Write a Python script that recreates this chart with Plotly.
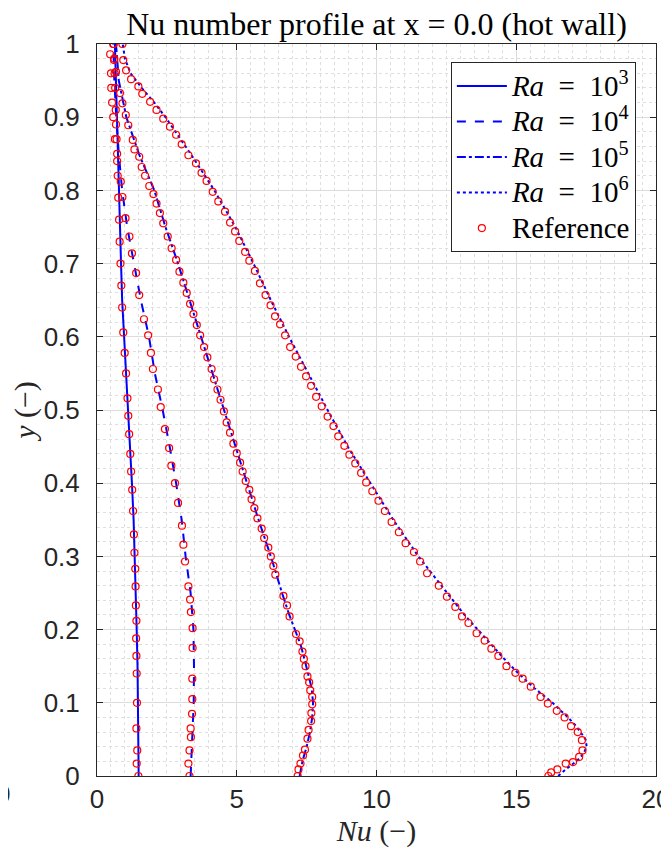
import plotly.graph_objects as go

# ---------------- data ----------------
# Model (line) profiles
y_ra3 = [0, 0.05, 0.1, 0.15, 0.2, 0.25, 0.3, 0.35, 0.4, 0.45, 0.5, 0.55, 0.6, 0.65, 0.7, 0.75, 0.8, 0.85, 0.9, 0.95, 1.0]
nu_ra3 = [1.49, 1.48, 1.47, 1.45, 1.42, 1.39, 1.36, 1.31, 1.25, 1.18, 1.11, 1.04, 0.97, 0.90, 0.86, 0.82, 0.78, 0.74, 0.70, 0.67, 0.64]

y_ra4 = [0, 0.05, 0.1, 0.15, 0.2, 0.25, 0.3, 0.35, 0.4, 0.45, 0.5, 0.55, 0.6, 0.65, 0.7, 0.75, 0.8, 0.85, 0.9, 0.95, 1.0]
nu_ra4 = [3.35, 3.40, 3.46, 3.47, 3.45, 3.35, 3.17, 3.03, 2.83, 2.60, 2.35, 2.07, 1.86, 1.57, 1.32, 1.08, 0.90, 0.78, 0.69, 0.62, 0.58]

y_ra5 = [0, 0.02, 0.04, 0.06, 0.08, 0.1, 0.12, 0.14, 0.16, 0.18, 0.2, 0.22, 0.25, 0.3, 0.35, 0.4, 0.45, 0.5, 0.55, 0.6, 0.65, 0.7, 0.75, 0.8, 0.85, 0.9, 0.95, 1.0]
nu_ra5 = [7.25, 7.35, 7.50, 7.62, 7.70, 7.73, 7.68, 7.56, 7.42, 7.28, 7.07, 6.88, 6.62, 6.22, 5.78, 5.37, 4.95, 4.55, 4.14, 3.73, 3.30, 2.90, 2.45, 2.05, 1.50, 1.05, 0.78, 0.68]

y_ra6 = [0, 0.01, 0.02, 0.03, 0.04, 0.05, 0.06, 0.07, 0.08, 0.09, 0.1, 0.12, 0.14, 0.16, 0.18, 0.2, 0.22, 0.25, 0.3, 0.35, 0.4, 0.45, 0.5, 0.55, 0.6, 0.65, 0.7, 0.75, 0.8, 0.85, 0.9, 0.92, 0.94, 0.96, 0.98, 1.0]
nu_ra6 = [16.5, 16.8, 17.15, 17.4, 17.52, 17.48, 17.3, 17.1, 16.85, 16.58, 16.3, 15.65, 15.08, 14.57, 14.1, 13.6, 13.15, 12.53, 11.5, 10.6, 9.78, 8.97, 8.25, 7.55, 6.87, 6.22, 5.6, 4.95, 4.2, 3.35, 2.45, 2.05, 1.6, 1.2, 1.0, 0.92]

# Reference (circle) data
ref_y_ra3 = [0, 0.017, 0.035, 0.065, 0.1, 0.14, 0.164, 0.188, 0.212, 0.233, 0.259, 0.283, 0.305, 0.330, 0.362, 0.391, 0.416, 0.440, 0.467, 0.492, 0.516, 0.550, 0.578, 0.606, 0.640, 0.67, 0.70, 0.73, 0.76, 0.79, 0.82, 0.85, 0.87, 0.89, 0.91, 0.94, 0.96, 0.98, 1.0]
ref_nu_ra3 = [1.48, 1.42, 1.44, 1.41, 1.43, 1.42, 1.41, 1.40, 1.41, 1.39, 1.38, 1.37, 1.34, 1.32, 1.29, 1.26, 1.22, 1.19, 1.15, 1.12, 1.09, 1.04, 0.99, 0.94, 0.90, 0.87, 0.84, 0.81, 0.79, 0.76, 0.74, 0.72, 0.70, 0.68, 0.67, 0.65, 0.63, 0.62, 0.60]

ref_y_ra4 = [0, 0.017, 0.035, 0.053, 0.065, 0.085, 0.105, 0.133, 0.175, 0.202, 0.224, 0.241, 0.259, 0.293, 0.316, 0.342, 0.373, 0.400, 0.424, 0.448, 0.474, 0.504, 0.528, 0.556, 0.578, 0.602, 0.624, 0.657, 0.687, 0.714, 0.737, 0.762, 0.791, 0.812, 0.84, 0.87, 0.90, 0.92, 0.94, 0.96, 0.986]
ref_nu_ra4 = [3.31, 3.27, 3.31, 3.36, 3.35, 3.40, 3.41, 3.41, 3.42, 3.42, 3.36, 3.33, 3.27, 3.15, 3.09, 3.04, 2.90, 2.79, 2.66, 2.58, 2.43, 2.28, 2.18, 2.00, 1.93, 1.83, 1.68, 1.51, 1.40, 1.25, 1.16, 1.02, 0.91, 0.85, 0.72, 0.64, 0.58, 0.54, 0.51, 0.50, 0.47]

ref_y_ra5 = [0, 0.009, 0.017, 0.028, 0.036, 0.051, 0.063, 0.075, 0.086, 0.098, 0.108, 0.117, 0.128, 0.136, 0.150, 0.160, 0.170, 0.184, 0.194, 0.218, 0.233, 0.246, 0.275, 0.287, 0.300, 0.312, 0.325, 0.338, 0.352, 0.366, 0.378, 0.391, 0.403, 0.416, 0.428, 0.441, 0.454, 0.469, 0.483, 0.498, 0.514, 0.528, 0.542, 0.556, 0.572, 0.586, 0.602, 0.616, 0.631, 0.645, 0.66, 0.674, 0.689, 0.705, 0.721, 0.737, 0.755, 0.769, 0.782, 0.795, 0.806, 0.820, 0.832, 0.846, 0.856, 0.869, 0.889, 0.903, 0.919, 0.933, 0.962, 0.978, 1.0]
ref_nu_ra5 = [7.18, 7.21, 7.28, 7.37, 7.44, 7.53, 7.57, 7.66, 7.67, 7.70, 7.70, 7.63, 7.59, 7.53, 7.46, 7.40, 7.35, 7.25, 7.12, 6.89, 6.80, 6.67, 6.38, 6.31, 6.22, 6.13, 5.98, 5.89, 5.74, 5.63, 5.53, 5.45, 5.32, 5.21, 5.12, 5.00, 4.88, 4.76, 4.64, 4.54, 4.42, 4.31, 4.19, 4.10, 3.95, 3.83, 3.69, 3.57, 3.45, 3.33, 3.21, 3.09, 2.95, 2.83, 2.67, 2.53, 2.37, 2.25, 2.13, 2.02, 1.87, 1.72, 1.60, 1.51, 1.34, 1.28, 1.12, 1.03, 0.91, 0.82, 0.68, 0.61, 0.58]

ref_y_ra6 = [0, 0.005, 0.009, 0.017, 0.019, 0.026, 0.035, 0.049, 0.060, 0.068, 0.080, 0.089, 0.099, 0.108, 0.122, 0.133, 0.141, 0.150, 0.164, 0.174, 0.185, 0.195, 0.209, 0.218, 0.231, 0.245, 0.260, 0.277, 0.293, 0.306, 0.318, 0.333, 0.347, 0.362, 0.376, 0.389, 0.401, 0.414, 0.427, 0.439, 0.451, 0.464, 0.478, 0.491, 0.505, 0.518, 0.533, 0.546, 0.559, 0.573, 0.586, 0.602, 0.617, 0.628, 0.643, 0.657, 0.673, 0.690, 0.704, 0.716, 0.731, 0.744, 0.756, 0.771, 0.785, 0.798, 0.813, 0.824, 0.837, 0.848, 0.863, 0.876, 0.887, 0.898, 0.910, 0.921, 0.932, 0.942, 0.952, 0.964, 0.978, 1.0]
ref_nu_ra6 = [16.15, 16.25, 16.47, 16.77, 17.03, 17.25, 17.37, 17.35, 17.20, 16.96, 16.73, 16.45, 16.13, 15.87, 15.52, 15.23, 14.97, 14.65, 14.36, 14.11, 13.87, 13.58, 13.29, 13.06, 12.82, 12.52, 12.23, 11.81, 11.56, 11.34, 11.04, 10.80, 10.54, 10.30, 10.07, 9.85, 9.63, 9.45, 9.24, 9.03, 8.85, 8.63, 8.46, 8.25, 8.04, 7.84, 7.66, 7.48, 7.30, 7.11, 6.91, 6.73, 6.55, 6.37, 6.21, 6.03, 5.83, 5.65, 5.45, 5.30, 5.09, 4.94, 4.76, 4.58, 4.34, 4.14, 3.92, 3.74, 3.54, 3.27, 3.03, 2.83, 2.61, 2.37, 2.13, 1.90, 1.62, 1.48, 1.22, 1.04, 0.94, 0.91]

exponents = ["3", "4", "5", "6"]
ref_name = "Reference"
x_ticks = [0, 5, 10, 15, 20]
y_ticks = [0, 0.1, 0.2, 0.3, 0.4, 0.5, 0.6, 0.7, 0.8, 0.9, 1]
y_ticktext = ["0", "0.1", "0.2", "0.3", "0.4", "0.5", "0.6", "0.7", "0.8", "0.9", "1"]

# ---------------- figure ----------------
BLUE = "#0000ff"
RED = "#ff0000"
SERIF = "Liberation Serif, Times New Roman, serif"
SANS = "Liberation Sans, Arial, sans-serif"
NB = "\u00a0"
BIG = '<span style="font-size:29px">{}</span>'

series_names = [BIG.format(f"<i>Ra</i> {NB}={NB} 10<sup>{e}</sup>") for e in exponents]

fig = go.Figure()
lines = [(nu_ra3, y_ra3, "solid"), (nu_ra4, y_ra4, "dash"),
         (nu_ra5, y_ra5, "dashdot"), (nu_ra6, y_ra6, "dot")]
for (xv, yv, dash), name in zip(lines, series_names):
    fig.add_trace(go.Scatter(x=xv, y=yv, mode="lines", name=name,
                             line=dict(color=BLUE, width=2, dash=dash)))

refs = [(ref_nu_ra3, ref_y_ra3), (ref_nu_ra4, ref_y_ra4),
        (ref_nu_ra5, ref_y_ra5), (ref_nu_ra6, ref_y_ra6)]
for i, (xv, yv) in enumerate(refs):
    fig.add_trace(go.Scatter(x=xv, y=yv, mode="markers", name=BIG.format(ref_name),
                             showlegend=(i == 0),
                             marker=dict(symbol="circle-open", size=7,
                                         color=RED, line=dict(width=1.2, color=RED))))

axis_common = dict(
    showline=True, linecolor="#262626", linewidth=1, mirror="ticks",
    ticks="inside", ticklen=6, tickcolor="#262626",
    showgrid=True, gridcolor="#dcdcdc", gridwidth=1,
    zeroline=False, automargin=False, ticklabeloverflow="allow",
    tickfont=dict(family=SANS, size=26, color="#262626"),
)

fig.update_xaxes(range=[0, 20], tickvals=x_ticks,
                 minor=dict(dtick=0.5, showgrid=True, gridcolor="#dedede",
                            griddash="dot", ticks=""),
                 ticklabelstandoff=0,
                 title=dict(text="<i>Nu</i> (−)", font=dict(family=SERIF, size=30, color="#262626"),
                            standoff=4),
                 **axis_common)
fig.update_yaxes(range=[0, 1], tickvals=y_ticks, ticktext=y_ticktext,
                 minor=dict(dtick=0.02, showgrid=True, gridcolor="#dedede",
                            griddash="dot", ticks=""),
                 ticklabelstandoff=11,
                 title=dict(text="<i>y</i> (−)", font=dict(family=SERIF, size=30, color="#262626"),
                            standoff=0),
                 **axis_common)

# The page body adds an 8 px offset; the figure is sized so that the plot
# area lands at the same window position as the reference.
fig.update_layout(
    width=661, height=841,
    margin=dict(l=89, r=13, t=36, b=73, autoexpand=False),
    paper_bgcolor="white", plot_bgcolor="white",
    title=dict(text="Nu number profile at x = 0.0 (hot wall)",
               font=dict(family=SERIF, size=32, color="#000000"),
               x=0.5, xanchor="center", xref="paper",
               y=1 - 16 / 841, yanchor="middle", yref="container"),
    legend=dict(x=0.964, y=0.975, xanchor="right", yanchor="top",
                bgcolor="white", bordercolor="#262626", borderwidth=1,
                font=dict(family=SERIF, size=25, color="#000000"),
                itemwidth=50, tracegroupgap=0),
    showlegend=True,
)

# cropping artifacts at the image border (neighbouring figure remnants)
fig.add_shape(type="line", xref="paper", yref="paper",
              x0=1.0206, x1=1.0206, y0=0.145, y1=0.787,
              line=dict(color="#5a5a40", width=1.5))
fig.add_annotation(text="0", xref="paper", yref="paper", x=-89 / 559 + 4 / 559, y=-0.024,
                   xanchor="right", yanchor="middle", showarrow=False,
                   font=dict(family=SANS, size=26, color="#262626"))

fig.write_html("out.html")
